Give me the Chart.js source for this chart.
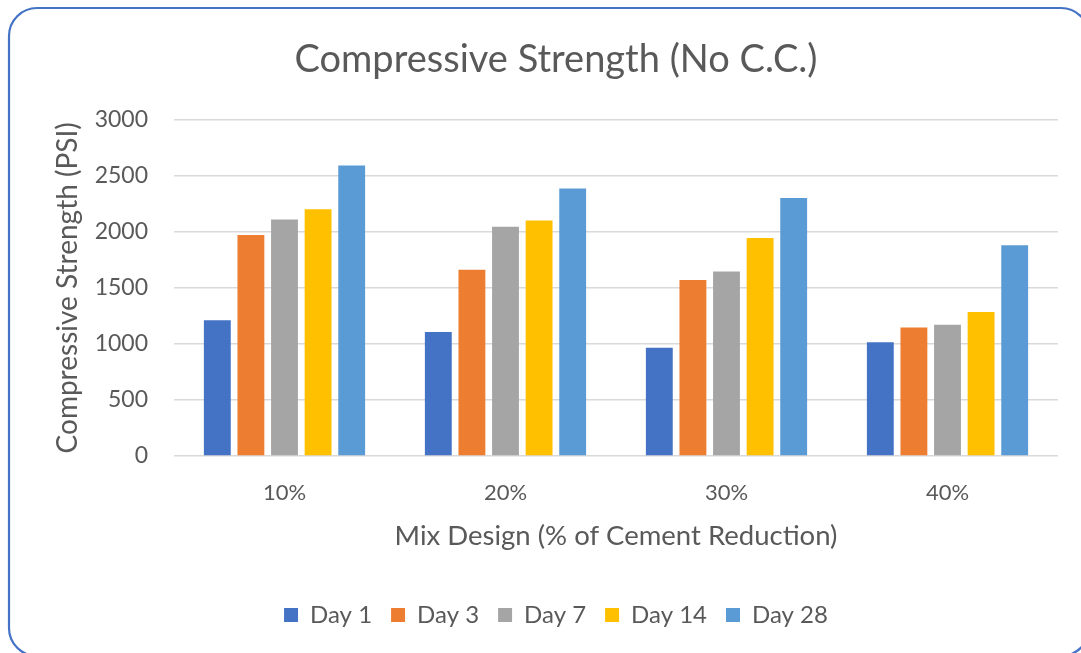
<!DOCTYPE html>
<html>
<head>
<meta charset="utf-8">
<script src="https://cdn.jsdelivr.net/npm/chart.js@4/dist/chart.umd.min.js"></script>
<style>
  html, body { margin: 0; padding: 0; background: #ffffff; }
  #wrap { position: relative; width: 1081px; height: 653px; }
</style>
</head>
<body>
<div id="wrap"><canvas id="c" width="1081" height="653"></canvas></div>
<script>
const categories = ['10%', '20%', '30%', '40%'];
const seriesNames = ['Day 1', 'Day 3', 'Day 7', 'Day 14', 'Day 28'];
const day1  = [1210, 1105, 965, 1015];
const day3  = [1970, 1660, 1570, 1145];
const day7  = [2110, 2045, 1645, 1170];
const day14 = [2200, 2100, 1945, 1285];
const day28 = [2590, 2385, 2300, 1880];
const yTicks = [0, 500, 1000, 1500, 2000, 2500, 3000];
const colors = ['#4472C4', '#ED7D31', '#A5A5A5', '#FFC000', '#5B9BD5'];

const seriesValues = [day1, day3, day7, day14, day28];
const FONT = 'Lato, "Open Sans", sans-serif';
const TXT = '#595959';

const borderPlugin = {
  id: 'frame',
  beforeDraw(chart) {
    const ctx = chart.ctx;
    ctx.save();
    ctx.fillStyle = '#ffffff';
    ctx.fillRect(0, 0, chart.width, chart.height);
    ctx.beginPath();
    ctx.roundRect(9, 8, 1080, 648, 28);
    ctx.lineWidth = 2.2;
    ctx.strokeStyle = '#4472C4';
    ctx.stroke();
    ctx.restore();
  }
};

new Chart(document.getElementById('c'), {
  type: 'bar',
  data: {
    labels: categories,
    datasets: seriesNames.map((n, i) => ({
      label: n,
      data: seriesValues[i],
      backgroundColor: colors[i],
      borderWidth: 0,
      categoryPercentage: 0.76,
      barPercentage: 0.8
    }))
  },
  options: {
    responsive: false,
    animation: false,
    devicePixelRatio: 1,
    layout: { padding: { top: 10, left: 54, right: 23, bottom: 16 } },
    plugins: {
      title: {
        display: true,
        text: 'Compressive Strength (No C.C.)',
        color: TXT,
        font: { family: FONT, size: 38, weight: 'normal' },
        padding: { top: 27, bottom: 37 }
      },
      legend: {
        position: 'bottom',
        labels: {
          color: TXT,
          font: { family: FONT, size: 24 },
          boxWidth: 14,
          boxHeight: 14,
          padding: 19
        }
      },
      tooltip: { enabled: false }
    },
    scales: {
      x: {
        grid: { display: false, drawTicks: false },
        border: { display: false },
        ticks: { color: TXT, font: { family: FONT, size: 22 }, padding: 24 },
        title: {
          display: true,
          text: 'Mix Design (% of Cement Reduction)',
          color: TXT,
          font: { family: FONT, size: 27.5 },
          padding: { top: 10, bottom: 31 }
        },
        afterFit(scale) { scale.height = 128; }
      },
      y: {
        min: 0,
        max: 3000,
        afterBuildTicks(scale) { scale.ticks = yTicks.map(v => ({ value: v })); },
        grid: { color: '#D9D9D9', lineWidth: 1.5, drawTicks: false },
        border: { display: false },
        ticks: {
          color: TXT,
          font: { family: FONT, size: 23 },
          padding: 26,
          callback: (v) => String(v)
        },
        title: {
          display: true,
          text: 'Compressive Strength (PSI)',
          color: TXT,
          font: { family: FONT, size: 28, lineHeight: 1.0 },
          padding: { top: 0, bottom: 0 }
        },
        afterFit(scale) { scale.width = 120; }
      }
    }
  },
  plugins: [borderPlugin]
});
</script>
</body>
</html>
